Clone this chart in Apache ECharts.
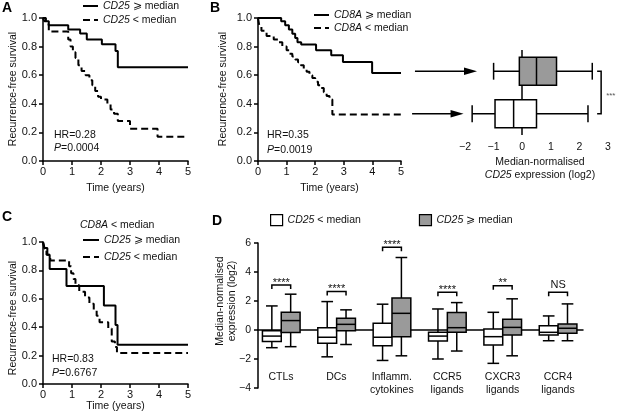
<!DOCTYPE html>
<html lang="en">
<head>
<meta charset="UTF-8">
<title>CD25 / CD8A survival</title>
<script src="https://cdn.jsdelivr.net/npm/echarts@6/dist/echarts.min.js"></script>
<style>
  html, body { margin: 0; padding: 0; background: #fff; }
  #main { width: 620px; height: 413px; }
</style>
</head>
<body>
<div id="main"></div>
<script>
// ---- Kaplan-Meier curves: [time (years), recurrence-free survival] ----
var kmA_hi = [[0,1],[0.05,0.977],[0.2,0.949],[0.87,0.919],[1.28,0.891],[1.51,0.849],[2.03,0.816],[2.5,0.77],[2.58,0.656],[5,0.656]];
var kmA_lo = [[0,1],[0.1,0.955],[0.2,0.905],[0.87,0.85],[0.95,0.80],[1.03,0.76],[1.12,0.72],[1.22,0.67],[1.33,0.63],[1.47,0.60],[1.6,0.565],[1.7,0.53],[1.8,0.49],[1.9,0.45],[2.0,0.43],[2.22,0.40],[2.33,0.36],[2.45,0.33],[2.58,0.28],[3.0,0.225],[3.95,0.17],[5,0.17]];
var kmB_hi = [[0,1],[0.81,0.977],[0.95,0.95],[1.08,0.92],[1.2,0.89],[1.3,0.86],[1.38,0.83],[1.51,0.814],[2.03,0.774],[2.56,0.74],[2.97,0.693],[3.99,0.616],[5,0.616]];
var kmB_lo = [[0,1],[0.05,0.94],[0.12,0.91],[0.3,0.875],[0.55,0.85],[0.7,0.83],[0.85,0.80],[1.0,0.775],[1.1,0.75],[1.2,0.73],[1.3,0.71],[1.4,0.69],[1.5,0.67],[1.6,0.645],[1.7,0.625],[1.8,0.60],[1.9,0.58],[2.0,0.555],[2.1,0.53],[2.2,0.51],[2.3,0.48],[2.4,0.455],[2.5,0.43],[2.6,0.325],[5,0.325]];
var kmC_hi = [[0,1],[0.05,0.958],[0.15,0.91],[0.23,0.81],[0.81,0.69],[2.1,0.553],[2.5,0.415],[2.57,0.277],[5,0.277]];
var kmC_lo = [[0,1],[0.05,0.955],[0.12,0.91],[0.25,0.87],[0.9,0.83],[0.97,0.78],[1.05,0.74],[1.12,0.695],[1.25,0.65],[1.45,0.61],[1.6,0.565],[1.75,0.52],[1.85,0.48],[1.95,0.435],[2.25,0.39],[2.37,0.30],[2.48,0.26],[2.55,0.218],[5,0.218]];

// ---- panel B boxes: CD25 expression [min, q1, median, q3, max] ----
var bGroups = ['CD8A < median', 'CD8A >= median'];
var bBoxLo = [-1.75, -0.95, -0.3, 0.5, 2.3];
var bBoxHi = [-1.0, -0.1, 0.5, 1.2, 2.45];
var bArrowFrom = [-3.85, -3.75];
var bArrowTo = [-2.05, -1.58];

// ---- panel D boxes [min, q1, median, q3, max] ----
var dCats = ['CTLs', 'DCs', 'Inflamm.\ncytokines', 'CCR5\nligands', 'CXCR3\nligands', 'CCR4\nligands'];
var dLow = [
  [-1.22, -0.8, -0.42, -0.05, 1.66],
  [-1.85, -0.92, -0.5, 0.16, 1.96],
  [-2.1, -1.08, -0.5, 0.46, 1.78],
  [-2.0, -0.76, -0.42, -0.16, 1.45],
  [-2.3, -1.04, -0.46, 0.07, 1.22],
  [-0.74, -0.35, -0.16, 0.3, 0.97]
];
var dHigh = [
  [-1.15, -0.18, 0.65, 1.22, 2.47],
  [-1.0, -0.05, 0.39, 0.81, 1.39],
  [-1.78, -0.46, 1.15, 2.2, 5.0],
  [-1.45, -0.16, 0.16, 1.2, 1.89],
  [-1.78, -0.35, 0.18, 0.74, 2.15],
  [-0.74, -0.23, 0.12, 0.42, 1.8]
];
var dSig = ['****', '****', '****', '****', '**', 'NS'];
var dSigY = [3.1, 2.65, 5.7, 2.6, 3.05, 2.6];

var FONT = '"Liberation Sans", Arial, sans-serif';
var INK = '#111';
var GREY = '#9a9a9a';

var legendText = {
  A_hi: '{i|CD25} ⩾ median', A_lo: '{i|CD25} < median',
  B_hi: '{i|CD8A} ⩾ median', B_lo: '{i|CD8A} < median',
  C_hi: '{i|CD25} ⩾ median', C_lo: '{i|CD25} < median',
  D_lo: '{i|CD25} < median', D_hi: '{i|CD25} ⩾ median'
};
var richTxt = {
  n: { fontFamily: FONT, fontSize: 10.5, color: INK },
  i: { fontFamily: FONT, fontSize: 10.5, color: INK, fontStyle: 'italic' }
};
function minus(v) { return String(v).replace('-', '\u2212'); }

function kmAxisX(grid, gap) {
  return {
    type: 'value', gridIndex: grid, min: 0, max: 5, interval: 1,
    name: 'Time (years)', nameLocation: 'middle', nameGap: gap,
    nameTextStyle: { fontFamily: FONT, fontSize: 10.5, color: INK },
    axisLine: { onZero: false, lineStyle: { color: '#000', width: 1.5 } },
    axisTick: { length: 4, lineStyle: { color: '#000', width: 1.5 } },
    axisLabel: { margin: 5, fontFamily: FONT, fontSize: 11, color: INK },
    splitLine: { show: false }
  };
}
function kmAxisY(grid) {
  return {
    type: 'value', gridIndex: grid, min: 0, max: 1, interval: 0.2,
    axisLine: { show: true, onZero: false, lineStyle: { color: '#000', width: 1.5 } },
    axisTick: { show: true, length: 4, lineStyle: { color: '#000', width: 1.5 } },
    axisLabel: { margin: 6, fontFamily: FONT, fontSize: 11, color: INK,
      formatter: function (v) { return v.toFixed(1); } },
    splitLine: { show: false }
  };
}
function kmSeries(name, grid, data, dashed) {
  return {
    name: name, type: 'line', xAxisIndex: grid, yAxisIndex: grid,
    step: 'end', symbol: 'none', silent: true, data: data,
    itemStyle: { color: '#000' },
    lineStyle: { color: '#000', width: 2, type: dashed ? [7, 4] : 'solid' }
  };
}

// vertical box (panel D); side -1 = left box, +1 = right box
function boxV(side) {
  return function (params, api) {
    var i = api.value(0);
    var bw = api.size([1, 0])[0] * 0.34;
    var cx = api.coord([i, 0])[0] + side * bw / 2;
    var y = [1, 2, 3, 4, 5].map(function (k) { return api.coord([i, api.value(k)])[1]; });
    var cap = bw * 0.62;
    var st = { stroke: '#000', lineWidth: 1.5, fill: null };
    return { type: 'group', children: [
      { type: 'line', shape: { x1: cx, y1: y[0], x2: cx, y2: y[1] }, style: st },
      { type: 'line', shape: { x1: cx, y1: y[3], x2: cx, y2: y[4] }, style: st },
      { type: 'line', shape: { x1: cx - cap / 2, y1: y[0], x2: cx + cap / 2, y2: y[0] }, style: st },
      { type: 'line', shape: { x1: cx - cap / 2, y1: y[4], x2: cx + cap / 2, y2: y[4] }, style: st },
      { type: 'rect', shape: { x: cx - bw / 2, y: y[3], width: bw, height: y[1] - y[3] },
        style: { fill: api.visual('color'), stroke: '#000', lineWidth: 1.5 } },
      { type: 'line', shape: { x1: cx - bw / 2, y1: y[2], x2: cx + bw / 2, y2: y[2] }, style: st }
    ]};
  };
}

// horizontal box (panel B); data = [category, min, q1, med, q3, max]
function boxH(params, api) {
  var c = api.value(0);
  var bh = api.size([0, 1])[1] * 0.66;
  var cy = api.coord([0, c])[1];
  var x = [1, 2, 3, 4, 5].map(function (k) { return api.coord([api.value(k), c])[0]; });
  var cap = bh * 0.6;
  var st = { stroke: '#000', lineWidth: 1.5, fill: null };
  return { type: 'group', children: [
    { type: 'line', shape: { x1: x[0], y1: cy, x2: x[1], y2: cy }, style: st },
    { type: 'line', shape: { x1: x[3], y1: cy, x2: x[4], y2: cy }, style: st },
    { type: 'line', shape: { x1: x[0], y1: cy - cap / 2, x2: x[0], y2: cy + cap / 2 }, style: st },
    { type: 'line', shape: { x1: x[4], y1: cy - cap / 2, x2: x[4], y2: cy + cap / 2 }, style: st },
    { type: 'rect', shape: { x: x[1], y: cy - bh / 2, width: x[3] - x[1], height: bh },
      style: { fill: api.visual('color'), stroke: '#000', lineWidth: 1.5 } },
    { type: 'line', shape: { x1: x[2], y1: cy - bh / 2, x2: x[2], y2: cy + bh / 2 }, style: st }
  ]};
}

// arrows from KM curves to the boxes; data = [category, from, to]
function arrowH(params, api) {
  var c = api.value(0);
  var p0 = api.coord([api.value(1), c]);
  var p1 = api.coord([api.value(2), c]);
  return { type: 'group', children: [
    { type: 'line', shape: { x1: p0[0], y1: p0[1], x2: p1[0] - 10, y2: p1[1] },
      style: { stroke: '#000', lineWidth: 1.5 } },
    { type: 'polygon', shape: { points: [[p1[0], p1[1]], [p1[0] - 13, p1[1] - 3.8], [p1[0] - 13, p1[1] + 3.8]] },
      style: { fill: '#000' } }
  ]};
}

function bracketB(params, api) {
  var xa = api.coord([api.value(0), 0])[0];
  var xb = api.coord([api.value(1), 0])[0];
  var y0 = api.coord([0, 1])[1];
  var y1 = api.coord([0, 0])[1];
  return { type: 'group', children: [
    { type: 'polyline', shape: { points: [[xa, y0], [xb, y0], [xb, y1], [xa, y1]] },
      style: { stroke: '#000', lineWidth: 1.5, fill: null } },
    { type: 'text', x: xb + 5, y: (y0 + y1) / 2 + 3,
      style: { text: '***', fontFamily: FONT, fontSize: 8, fill: '#555', verticalAlign: 'middle' } }
  ]};
}

function bracketD(params, api) {
  var i = api.value(0);
  var bw = api.size([1, 0])[0] * 0.34;
  var cx = api.coord([i, 0])[0];
  var y = api.coord([i, api.value(1)])[1];
  var lab = dSig[params.dataIndex];
  var isStar = lab.charAt(0) === '*';
  return { type: 'group', children: [
    { type: 'polyline', shape: { points: [[cx - bw / 2, y + 4], [cx - bw / 2, y], [cx + bw / 2, y], [cx + bw / 2, y + 4]] },
      style: { stroke: '#000', lineWidth: 1.5, fill: null } },
    { type: 'text', x: cx, y: isStar ? y + 3 : y - 2,
      style: { text: lab, fontFamily: FONT, fontSize: 11, fill: INK,
        align: 'center', verticalAlign: 'bottom' } }
  ]};
}

function txt(text, x, y, extra) {
  var s = { text: text, fontFamily: FONT, fontSize: 10.5, fill: INK, align: 'left', verticalAlign: 'middle', rich: richTxt };
  for (var k in extra) { s[k] = extra[k]; }
  return { type: 'text', x: x, y: y, style: s, silent: true };
}
function vtxt(text, x, y, extra) {
  var g = txt(text, x, y, extra);
  g.rotation = Math.PI / 2;
  g.style.align = 'center';
  return g;
}
function letter(ch, x, y) {
  return txt(ch, x, y, { fontSize: 14, fontWeight: 'bold', fill: '#000' });
}

var legendBase = {
  orient: 'vertical', selectedMode: false, itemGap: 2, itemHeight: 10, padding: 0,
  itemStyle: { opacity: 0 },
  lineStyle: { width: 2, color: '#000' },
  textStyle: { fontFamily: FONT, fontSize: 10.5, color: INK, lineHeight: 12, rich: richTxt },
  formatter: function (n) { return legendText[n]; }
};
function legendAt(names, left, top, w, gap) {
  var l = {};
  for (var k in legendBase) { l[k] = legendBase[k]; }
  l.data = names; l.left = left; l.top = top; l.itemWidth = w; l.itemGap = gap;
  return l;
}
var legendD = legendAt(['D_lo', 'D_hi'], 270, 214, 12, 58);
legendD.orient = 'horizontal';
legendD.icon = 'rect';
legendD.itemHeight = 11;
legendD.itemStyle = { borderColor: '#000', borderWidth: 1.2 };
delete legendD.lineStyle;

var chart = echarts.init(document.getElementById('main'), null, { renderer: 'canvas' });
var option = {
  animation: false,
  backgroundColor: '#fff',
  grid: [
    { left: 43, top: 18, width: 145, height: 143, outerBoundsMode: 'none' },
    { left: 258, top: 18, width: 143, height: 143, outerBoundsMode: 'none' },
    { left: 465, top: 50, width: 143, height: 85, outerBoundsMode: 'none' },
    { left: 43, top: 242, width: 145, height: 142, outerBoundsMode: 'none' },
    { left: 258, top: 243, width: 325, height: 145, outerBoundsMode: 'none' },
    { left: 253.3, top: 243, width: 332.4, height: 145, outerBoundsMode: 'none' }
  ],
  xAxis: [
    kmAxisX(0, 22),
    kmAxisX(1, 22),
    { type: 'value', gridIndex: 2, min: -2, max: 3, interval: 1,
      axisLine: { onZero: false, lineStyle: { color: '#000', width: 1.5 } },
      axisTick: { inside: true, length: 4, lineStyle: { color: '#000', width: 1.5 } },
      axisLabel: { margin: 7, fontFamily: FONT, fontSize: 10.5, color: INK, formatter: minus },
      splitLine: { show: false } },
    kmAxisX(3, 14),
    { type: 'value', gridIndex: 4, min: -0.42, max: 5.45,
      axisLine: { onZero: true, lineStyle: { color: '#000', width: 1.5 } },
      axisTick: { show: false }, axisLabel: { show: false }, splitLine: { show: false } },
    { type: 'category', gridIndex: 5, data: dCats, position: 'bottom',
      axisLine: { show: false }, axisTick: { show: false }, splitLine: { show: false },
      axisLabel: { margin: -17, fontFamily: FONT, fontSize: 10.5, lineHeight: 13, color: INK, interval: 0 } }
  ],
  yAxis: [
    kmAxisY(0),
    kmAxisY(1),
    { type: 'category', gridIndex: 2, data: bGroups, show: false },
    kmAxisY(3),
    { type: 'value', gridIndex: 4, min: -4, max: 6, interval: 2,
      axisLine: { show: true, onZero: false, lineStyle: { color: '#000', width: 1.5 } },
      axisTick: { show: true, length: 4, lineStyle: { color: '#000', width: 1.5 } },
      axisLabel: { margin: 7, fontFamily: FONT, fontSize: 10.5, color: INK, formatter: minus },
      splitLine: { show: false } },
    { type: 'value', gridIndex: 5, show: false, min: -4, max: 6 }
  ],
  legend: [
    legendAt(['A_hi', 'A_lo'], 82, 0, 15, 2),
    legendAt(['B_hi', 'B_lo'], 313, 9, 15, 1),
    legendAt(['C_hi', 'C_lo'], 82, 234, 16, 5),
    legendD
  ],
  series: [
    kmSeries('A_hi', 0, kmA_hi, false),
    kmSeries('A_lo', 0, kmA_lo, true),
    kmSeries('B_hi', 1, kmB_hi, false),
    kmSeries('B_lo', 1, kmB_lo, true),
    kmSeries('C_hi', 3, kmC_hi, false),
    kmSeries('C_lo', 3, kmC_lo, true),
    { type: 'custom', xAxisIndex: 2, yAxisIndex: 2, silent: true, z: 1,
      data: [[0, bArrowFrom[0], bArrowTo[0]], [1, bArrowFrom[1], bArrowTo[1]]],
      renderItem: arrowH },
    { name: 'B_box_lo', type: 'custom', xAxisIndex: 2, yAxisIndex: 2, silent: true,
      itemStyle: { color: '#fff' },
      data: [[0].concat(bBoxLo)], renderItem: boxH,
      markLine: { silent: true, symbol: 'none', z: 0, label: { show: false },
        lineStyle: { color: '#000', width: 1.5, type: 'solid' }, data: [{ xAxis: 0 }] } },
    { name: 'B_box_hi', type: 'custom', xAxisIndex: 2, yAxisIndex: 2, silent: true,
      itemStyle: { color: GREY },
      data: [[1].concat(bBoxHi)], renderItem: boxH },
    { type: 'custom', xAxisIndex: 2, yAxisIndex: 2, silent: true,
      data: [[2.62, 2.76]], renderItem: bracketB },
    { name: 'D_lo', type: 'custom', xAxisIndex: 4, yAxisIndex: 4, silent: true,
      itemStyle: { color: '#fff', borderColor: '#000' },
      data: dLow.map(function (s, i) { return [i].concat(s); }), renderItem: boxV(-1) },
    { name: 'D_hi', type: 'custom', xAxisIndex: 4, yAxisIndex: 4, silent: true,
      itemStyle: { color: GREY, borderColor: '#000' },
      data: dHigh.map(function (s, i) { return [i].concat(s); }), renderItem: boxV(1) },
    { type: 'custom', xAxisIndex: 4, yAxisIndex: 4, silent: true,
      data: dSigY.map(function (v, i) { return [i, v]; }), renderItem: bracketD }
  ],
  graphic: [
    letter('A', 2, 8), letter('B', 210, 8), letter('C', 2, 217), letter('D', 212, 221),
    vtxt('Recurrence-free survival', 13, 89),
    vtxt('Recurrence-free survival', 223, 89),
    vtxt('Recurrence-free survival', 13, 318),
    vtxt('Median-normalised\nexpression (log2)', 226, 301, { lineHeight: 12 }),
    txt('{n|HR=0.28}', 54, 135), txt('{i|P}{n|=0.0004}', 54, 148),
    txt('{n|HR=0.35}', 267, 135), txt('{i|P}{n|=0.0019}', 267, 150),
    txt('{n|HR=0.83}', 52, 359), txt('{i|P}{n|=0.6767}', 52, 373),
    txt('{i|CD8A} < median', 80, 225),
    txt('{n|Median-normalised}\n{i|CD25}{n| expression (log2)}', 540, 169,
      { align: 'center', lineHeight: 13 })
  ]
};
chart.setOption(option);
</script>
</body>
</html>
